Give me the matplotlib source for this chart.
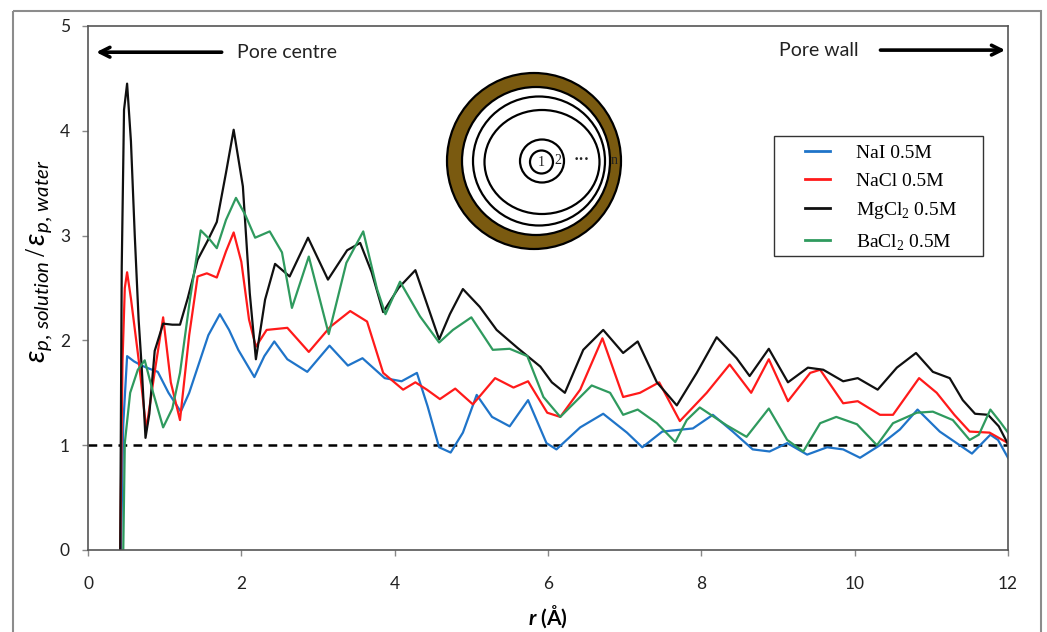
import numpy as np
import matplotlib
matplotlib.use("Agg")
import matplotlib.pyplot as plt
from matplotlib.patches import Ellipse, Rectangle

plt.rcParams['font.family'] = ['Lato', 'DejaVu Sans']
plt.rcParams['mathtext.fontset'] = 'custom'
plt.rcParams['mathtext.rm'] = 'Liberation Serif'
plt.rcParams['mathtext.it'] = 'Lato:italic'
plt.rcParams['mathtext.bf'] = 'Lato:bold'
plt.rcParams['mathtext.bfit'] = 'Lato:italic:bold'

# relative dielectric constant profiles across the pore
r_nai = [0.43, 0.46, 0.51, 0.6, 0.7, 0.8, 0.91, 1.05, 1.21, 1.32, 1.42, 1.57, 1.72, 1.84, 1.96,
         2.17, 2.3, 2.43, 2.6, 2.86, 3.15, 3.39, 3.58, 3.87, 4.09, 4.29, 4.43, 4.58, 4.73, 4.89,
         5.07, 5.27, 5.5, 5.74, 5.98, 6.11, 6.42, 6.72, 7.03, 7.23, 7.49, 7.89, 8.15, 8.41, 8.67,
         8.89, 9.12, 9.38, 9.64, 9.85, 10.07, 10.33, 10.59, 10.82, 11.11, 11.33, 11.53, 11.77,
         11.87, 12.0]
v_nai = [0, 1.2, 1.85, 1.8, 1.76, 1.73, 1.7, 1.5, 1.32, 1.5, 1.72, 2.05, 2.25, 2.1, 1.91,
         1.65, 1.85, 1.99, 1.82, 1.7, 1.95, 1.76, 1.83, 1.64, 1.61, 1.69, 1.37, 0.98, 0.93, 1.12,
         1.48, 1.27, 1.18, 1.43, 1.02, 0.96, 1.17, 1.3, 1.12, 0.98, 1.13, 1.16, 1.29, 1.13, 0.96,
         0.94, 1.02, 0.91, 0.98, 0.96, 0.88, 1.0, 1.15, 1.34, 1.13, 1.02, 0.92, 1.1,
         1.05, 0.88]

r_nacl = [0.42, 0.45, 0.48, 0.51, 0.56, 0.66, 0.76, 0.87, 0.98, 1.08, 1.2, 1.32, 1.43, 1.55, 1.68,
          1.8, 1.9, 2.0, 2.1, 2.19, 2.33, 2.6, 2.88, 3.16, 3.42, 3.64, 3.85, 4.11, 4.27, 4.42,
          4.59, 4.79, 5.02, 5.31, 5.55, 5.74, 5.99, 6.16, 6.42, 6.71, 6.98, 7.2, 7.45, 7.72, 8.07,
          8.37, 8.65, 8.88, 9.13, 9.42, 9.55, 9.85, 10.04, 10.33, 10.5, 10.84, 11.07, 11.3, 11.5,
          11.76, 12.0]
v_nacl = [0, 1.8, 2.5, 2.65, 2.4, 1.82, 1.15, 1.7, 2.22, 1.6, 1.24, 2.05, 2.61, 2.64, 2.6,
          2.85, 3.03, 2.75, 2.2, 1.94, 2.1, 2.12, 1.89, 2.13, 2.28, 2.18, 1.69, 1.53, 1.6, 1.53,
          1.44, 1.54, 1.39, 1.64, 1.55, 1.61, 1.31, 1.27, 1.53, 2.02, 1.46, 1.5, 1.6, 1.23, 1.5,
          1.77, 1.5, 1.82, 1.42, 1.69, 1.72, 1.4, 1.42, 1.29, 1.29, 1.64, 1.5, 1.29, 1.13,
          1.12, 1.02]

r_mgcl2 = [0.42, 0.44, 0.47, 0.51, 0.56, 0.61, 0.66, 0.7, 0.75, 0.8, 0.87, 0.98, 1.1, 1.2, 1.3,
           1.43, 1.56, 1.68, 1.8, 1.9, 2.02, 2.11, 2.19, 2.31, 2.44, 2.63, 2.87, 3.13, 3.38, 3.55,
           3.7, 3.85, 4.05, 4.27, 4.42, 4.58, 4.72, 4.89, 5.11, 5.33, 5.6, 5.9, 6.05, 6.22, 6.46,
           6.72, 6.98, 7.17, 7.42, 7.68, 7.94, 8.2, 8.46, 8.63, 8.88, 9.13, 9.39, 9.59, 9.85,
           10.04, 10.3, 10.55, 10.8, 11.02, 11.24, 11.41, 11.57, 11.74, 11.88, 12.0]
v_mgcl2 = [0, 2.7, 4.2, 4.45, 3.9, 3.0, 2.2, 1.75, 1.07, 1.3, 1.9, 2.16, 2.15, 2.15, 2.4,
           2.77, 2.95, 3.13, 3.6, 4.01, 3.47, 2.45, 1.82, 2.39, 2.73, 2.61, 2.98, 2.58, 2.86, 2.93,
           2.65, 2.27, 2.5, 2.67, 2.35, 2.01, 2.25, 2.49, 2.32, 2.1, 1.93, 1.75, 1.6, 1.5, 1.91,
           2.1, 1.88, 1.99, 1.6, 1.38, 1.69, 2.03, 1.83, 1.66, 1.92, 1.6, 1.74, 1.72, 1.61,
           1.64, 1.53, 1.74, 1.88, 1.7, 1.64, 1.43, 1.3, 1.29, 1.18, 1.01]

r_bacl2 = [0.46, 0.48, 0.55, 0.65, 0.74, 0.85, 0.98, 1.1, 1.2, 1.33, 1.47, 1.58, 1.68, 1.8, 1.93,
           2.05, 2.18, 2.37, 2.53, 2.66, 2.88, 3.14, 3.37, 3.59, 3.77, 3.88, 4.07, 4.33, 4.58,
           4.76, 5.0, 5.28, 5.5, 5.73, 5.94, 6.16, 6.42, 6.57, 6.81, 6.98, 7.17, 7.42, 7.66, 7.81,
           7.98, 8.33, 8.59, 8.88, 9.12, 9.33, 9.55, 9.76, 10.03, 10.29, 10.5, 10.81, 11.02,
           11.28, 11.5, 11.62, 11.77, 11.9, 12.0]
v_bacl2 = [0, 1.02, 1.5, 1.72, 1.81, 1.5, 1.17, 1.35, 1.69, 2.39, 3.05, 2.97, 2.88, 3.15, 3.36,
           3.2, 2.98, 3.04, 2.84, 2.31, 2.8, 2.06, 2.74, 3.04, 2.49, 2.25, 2.56, 2.23, 1.98,
           2.1, 2.22, 1.91, 1.92, 1.85, 1.46, 1.27, 1.46, 1.57, 1.5, 1.29, 1.34, 1.21, 1.03, 1.24,
           1.36, 1.19, 1.08, 1.35, 1.05, 0.94, 1.21, 1.27, 1.2, 1.0, 1.21, 1.31, 1.32,
           1.24, 1.05, 1.1, 1.34, 1.22, 1.12]

labels = ['NaI 0.5M', 'NaCl 0.5M', 'MgCl$_2$ 0.5M', 'BaCl$_2$ 0.5M']
colors = ['#1f74c9', '#ff1a1a', '#101010', '#2f9a5e']

W, H = 1047, 632
fig = plt.figure(figsize=(W / 100, H / 100), dpi=100)
ax = fig.add_axes([88 / W, 1 - 550 / H, 920 / W, 524 / H])

series = [(r_nai, v_nai), (r_nacl, v_nacl), (r_mgcl2, v_mgcl2), (r_bacl2, v_bacl2)]
lines = []
for (rr, vv), c, lab in zip(series, colors, labels):
    ln, = ax.plot(rr, vv, color=c, lw=1.6, label=lab, solid_joinstyle='round')
    lines.append(ln)

# pure water reference
ax.axhline(1.0, color='black', lw=1.8, ls=(0, (3.5, 2.5)), zorder=1)

ax.set_xlim(0, 12)
ax.set_ylim(0, 5)
ax.set_xticks([0, 2, 4, 6, 8, 10, 12])
ax.set_yticks([0, 1, 2, 3, 4, 5])
for s in ax.spines.values():
    s.set_color('#555555')
    s.set_linewidth(1.2)
ax.tick_params(direction='out', length=4, width=1, color='#888888',
               labelsize=12.5, labelcolor='#222222', pad=9)
ax.tick_params(axis='x', pad=15)

ax.set_xlabel(r'$\mathbfit{r}$ (Å)', fontsize=15, fontweight='bold', labelpad=8)
ax.set_ylabel(r'$\varepsilon_{p,\,solution}\,/\,\varepsilon_{p,\,water}$', fontsize=21)
ax.yaxis.set_label_coords(-0.036, 0.55)

# direction arrows
ax.annotate('', xy=(0.07, 4.75), xytext=(1.78, 4.75),
            arrowprops=dict(arrowstyle='->,head_length=0.7,head_width=0.35', lw=2.6, color='black'))
ax.text(1.94, 4.75, 'Pore centre', fontsize=14, va='center', ha='left', color='#222222')
ax.annotate('', xy=(12.0, 4.77), xytext=(10.3, 4.77),
            arrowprops=dict(arrowstyle='->,head_length=0.7,head_width=0.35', lw=2.6, color='black'))
ax.text(10.05, 4.77, 'Pore wall', fontsize=14, va='center', ha='right', color='#222222')

leg = ax.legend(handles=lines, loc='upper left', bbox_to_anchor=(805 / W, 1 - 144 / H),
                bbox_transform=fig.transFigure, frameon=False, borderpad=0, borderaxespad=0,
                prop={'family': 'Liberation Serif', 'size': 14}, handlelength=1.3,
                handletextpad=1.3, labelspacing=0.54)
for h in leg.get_lines():
    h.set_linewidth(2)

# overlay in pixel units: outer frame and pore sketch
ov = fig.add_axes([0, 0, 1, 1], zorder=5)
ov.set_xlim(0, W)
ov.set_ylim(H, 0)
ov.axis('off')
ov.patch.set_alpha(0)

ov.add_patch(Rectangle((13, 11), 1028, 640, fill=False, ec='#8c8c8c', lw=1.5))
ov.add_patch(Rectangle((774, 136), 209, 120, fill=False, ec='#333333', lw=1.0))

ring = [(534, 161, 174, 176, '#7a5a10'),
        (536, 161, 148, 148, 'white'),
        (539, 161, 132, 129, 'white'),
        (542, 162, 115, 104, 'white'),
        (542, 161, 44, 43, 'white'),
        (541.5, 162, 23, 23, 'white')]
for cx, cy, w, h, fc in ring:
    ov.add_patch(Ellipse((cx, cy), w, h, fc=fc, ec='black', lw=1.6))

serif = {'family': 'Liberation Serif', 'size': 10, 'color': '#222222'}
ov.text(541.5, 162, '1', ha='center', va='center', **serif)
ov.text(558, 161, '2', ha='center', va='center', **serif)
ov.text(582, 160, '•••', ha='center', va='center', family='DejaVu Sans', size=6.5,
        color='#222222')
ov.text(614, 160, 'n', ha='center', va='center', **serif)

fig.savefig('out.png', dpi=100)
